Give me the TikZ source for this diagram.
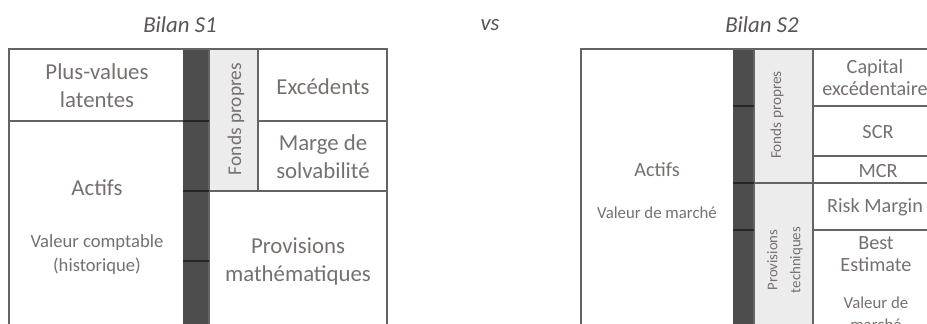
\documentclass[tikz,border=0pt]{standalone}
\usepackage{fontspec}
\setmainfont{Carlito}
\definecolor{txtgray}{RGB}{118,112,110}
\definecolor{titlegray}{RGB}{89,85,84}
\definecolor{linegray}{RGB}{100,100,100}
\definecolor{bargray}{RGB}{77,77,77}
\definecolor{bardark}{RGB}{38,38,38}
\definecolor{colgray}{RGB}{236,236,236}
\tikzset{
	lbl/.style={text=txtgray, align=center, inner sep=0pt, font=\fontsize{11.4}{14}\selectfont},
	lbltwo/.style={text=txtgray, align=center, inner sep=0pt, font=\fontsize{10.1}{11}\selectfont},
	note/.style={text=txtgray, align=center, inner sep=0pt, font=\fontsize{9.3}{12}\selectfont},
	notetwo/.style={text=txtgray, align=center, inner sep=0pt, font=\fontsize{8.4}{11}\selectfont},
	title/.style={text=titlegray, inner sep=0pt, font=\fontsize{11.4}{14}\selectfont\itshape},
	box/.style={draw=linegray, line width=0.7pt},
	bar/.style={fill=bargray},
	barsep/.style={draw=bardark, line width=0.9pt}
}
\begin{document}
\begin{tikzpicture}[x=0.5pt, y=-0.5pt]
		\useasboundingbox (0,0) rectangle (927,323);
		\fill[white] (0,0) rectangle (927,323);
		\clip (0,0) rectangle (927,323);
		
		\node[title] (t1) at (180,25) {Bilan S1};
		\node[title] (vs) at (490,25) {vs};
		\node[title] (t2) at (762,25) {Bilan S2};
		
		% S1
		\fill[colgray] (209,49) rectangle (258,191);
		\fill[bar] (183,49) rectangle (209,340);
		\draw[box] (9,49) rectangle (387,340);
		\draw[box] (9,121) -- (183,121);
		\draw[box] (258,49) -- (258,191);
		\draw[box] (258,121) -- (387,121);
		\draw[box] (209,191) -- (387,191);
		\draw[box] (209,49) -- (209,340);
		\foreach \y in {121,191,261}
			\draw[barsep] (183,\y) -- (209,\y);
		
		\node[lbl] (plusval) at (97,86) {Plus-values\\latentes};
		\node[lbl] (actifs1) at (97,188) {Actifs};
		\node[note] (valcompt) at (97,255) {Valeur comptable\\(historique)};
		\node[lbl] (excedents) at (323,87) {Excédents};
		\node[lbl] (marge) at (323,157) {Marge de\\solvabilité};
		\node[lbl] (provmath) at (298,261) {Provisions\\mathématiques};
		\node[note, rotate=90, font=\fontsize{9.7}{12}\selectfont] (fp1) at (236,119) {Fonds propres};
		
		% S2
		\fill[colgray] (754,49) rectangle (813,340);
		\fill[bar] (733,49) rectangle (754,340);
		\draw[box] (581,49) rectangle (937,340);
		\draw[box] (754,49) -- (754,340);
		\draw[box] (813,49) -- (813,340);
		\draw[box] (733,183) -- (937,183);
		\foreach \y in {106,156,230}
			\draw[box] (813,\y) -- (937,\y);
		\foreach \y in {106,183,230}
			\draw[barsep] (733,\y) -- (754,\y);
		
		\node[lbltwo] (actifs2) at (657,170) {Actifs};
		\node[notetwo] (valmarche) at (657,213) {Valeur de marché};
		\node[lbltwo] (capital) at (875,78) {Capital\\excédentaire};
		\node[lbltwo] (scr) at (878,132) {SCR};
		\node[lbltwo] (mcr) at (878,171) {MCR};
		\node[lbltwo] (risk) at (875,207) {Risk Margin};
		\node[lbltwo] (best) at (876,254) {Best\\Estimate};
		\node[notetwo] (valmarche2) at (876,314) {Valeur de\\marché};
		\node[notetwo, rotate=90, font=\fontsize{7.6}{11.5}\selectfont] (fp2) at (777,115) {Fonds propres};
		\node[notetwo, rotate=90, font=\fontsize{7.4}{11.5}\selectfont] (provtech) at (785,260) {Provisions\\techniques};
\end{tikzpicture}
\end{document}
